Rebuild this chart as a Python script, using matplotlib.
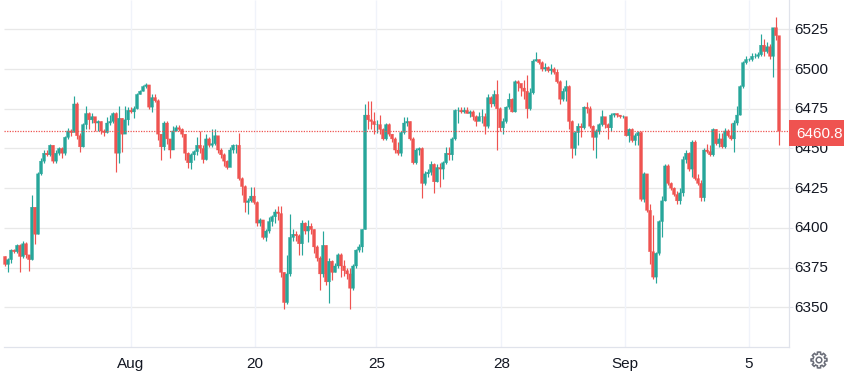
import numpy as np
import matplotlib
matplotlib.use("Agg")
import matplotlib.pyplot as plt
from matplotlib.patches import Rectangle, Polygon
from matplotlib.transforms import ScaledTranslation

plt.rcParams['font.family'] = ['Liberation Sans', 'DejaVu Sans']

first_open = 6382
closes = [
6377,6380,6386,6385,6389,6382,6390,6383,6380,6413,
6396,6434,6442,6447,6446,6452,6442,6447,6450,6447,
6457,6461,6460,6478,6458,6451,6465,6472,6468,6470,
6466,6467,6461,6460,6466,6467,6472,6447,6469,6459,
6468,6474,6473,6475,6484,6486,6489,6490,6476,6482,
6480,6459,6451,6466,6456,6449,6461,6463,6462,6459,
6447,6441,6446,6448,6452,6450,6443,6456,6452,6453,
6458,6449,6446,6442,6438,6449,6452,6452,6431,6426,
6416,6417,6420,6416,6403,6405,6394,6398,6404,6407,
6410,6409,6372,6353,6371,6394,6396,6395,6390,6403,
6398,6401,6399,6388,6381,6371,6389,6366,6379,6372,
6376,6383,6376,6373,6371,6362,6376,6386,6388,6399,
6471,6468,6467,6465,6465,6462,6456,6465,6459,6456,
6449,6447,6460,6466,6467,6456,6441,6449,6450,6428,
6434,6435,6440,6429,6438,6437,6441,6447,6446,6456,
6474,6474,6473,6474,6472,6473,6470,6467,6470,6470,
6464,6482,6478,6484,6475,6463,6467,6476,6481,6473,
6492,6491,6488,6486,6475,6485,6505,6506,6504,6500,
6501,6499,6500,6498,6492,6481,6486,6489,6467,6450,
6460,6464,6463,6476,6475,6464,6457,6461,6465,6470,
6465,6463,6471,6472,6471,6470,6470,6458,6462,6455,
6458,6460,6418,6434,6411,6385,6369,6384,6404,6417,
6439,6428,6425,6421,6417,6422,6443,6447,6437,6454,
6431,6428,6419,6449,6448,6446,6462,6453,6456,6451,
6461,6458,6456,6466,6471,6489,6504,6506,6506,6508,
6508,6509,6515,6511,6514,6508,6526,6521,6460.8]
highs = [
6382,6381,6387,6387,6390,6390,6392,6391,6383,6421,
6413,6435,6444,6449,6449,6453,6452,6449,6451,6451,
6458,6463,6462,6483,6479,6460,6466,6477,6473,6472,
6470,6468,6467,6462,6470,6471,6473,6473,6477,6469,
6477,6476,6476,6477,6485,6487,6490,6491,6490,6484,
6484,6481,6459,6467,6467,6456,6464,6465,6465,6463,
6459,6448,6447,6449,6457,6461,6452,6459,6457,6462,
6462,6458,6450,6447,6443,6451,6453,6453,6460,6432,
6427,6419,6426,6426,6417,6406,6405,6399,6407,6408,
6412,6414,6414,6372,6383,6409,6399,6398,6396,6405,
6404,6405,6403,6399,6389,6382,6398,6389,6381,6380,
6378,6384,6384,6380,6375,6375,6377,6387,6390,6399,
6478,6480,6480,6473,6468,6471,6463,6466,6466,6459,
6457,6454,6461,6470,6470,6467,6457,6450,6451,6451,
6436,6437,6442,6441,6440,6441,6442,6451,6451,6457,
6475,6476,6476,6476,6476,6474,6474,6471,6473,6475,
6472,6484,6483,6487,6493,6476,6469,6477,6485,6482,
6493,6493,6490,6493,6496,6488,6506,6511,6506,6505,
6504,6502,6503,6501,6500,6493,6488,6493,6490,6468,
6461,6466,6466,6477,6479,6477,6465,6462,6466,6474,
6470,6466,6472,6472,6472,6471,6471,6470,6463,6463,
6460,6461,6461,6435,6430,6415,6408,6385,6405,6420,
6440,6440,6429,6426,6423,6425,6445,6449,6448,6455,
6455,6434,6430,6450,6453,6452,6463,6462,6460,6460,
6463,6462,6466,6468,6477,6490,6505,6508,6507,6510,
6510,6511,6522,6519,6517,6516,6526,6533,6521]
lows = [
6376,6372,6378,6384,6384,6372,6381,6381,6373,6380,
6390,6396,6433,6441,6445,6445,6441,6441,6446,6444,
6446,6456,6458,6462,6456,6448,6451,6462,6462,6466,
6461,6461,6459,6458,6460,6465,6466,6435,6441,6448,
6460,6465,6472,6469,6475,6484,6486,6488,6475,6473,
6479,6455,6443,6449,6453,6444,6453,6461,6461,6457,
6443,6438,6437,6443,6446,6447,6441,6443,6451,6451,
6452,6447,6444,6439,6437,6441,6447,6447,6430,6421,
6410,6409,6416,6415,6401,6401,6393,6392,6397,6401,
6403,6405,6369,6349,6352,6370,6392,6392,6383,6383,
6396,6391,6396,6384,6379,6361,6369,6364,6353,6367,
6372,6375,6369,6370,6368,6349,6361,6375,6385,6385,
6399,6462,6462,6459,6460,6459,6455,6455,6458,6454,
6447,6446,6445,6459,6464,6455,6440,6440,6446,6419,
6427,6432,6433,6422,6429,6426,6431,6440,6443,6443,
6455,6466,6472,6472,6472,6470,6468,6464,6468,6466,
6459,6463,6476,6477,6449,6461,6459,6466,6475,6473,
6473,6486,6483,6481,6469,6474,6484,6505,6503,6499,
6499,6498,6497,6497,6491,6478,6480,6480,6462,6444,
6446,6452,6457,6462,6472,6463,6449,6444,6459,6464,
6463,6456,6461,6470,6470,6469,6469,6458,6454,6454,
6452,6452,6417,6416,6410,6377,6368,6365,6383,6394,
6417,6427,6424,6420,6415,6415,6420,6441,6436,6432,
6430,6427,6417,6417,6447,6445,6445,6452,6451,6450,
6450,6457,6455,6448,6465,6471,6488,6503,6505,6505,
6507,6507,6508,6508,6510,6506,6495,6518,6452]
last_price = 6460.8
price_ticks = [6350, 6375, 6400, 6425, 6450, 6475, 6500, 6525]
time_labels = ['Aug', '20', '25', '28', 'Sep', '5']
time_positions = [42.0, 83.17, 123.83, 165.5, 206.67, 248.0]

UP, DOWN = '#26a69a', '#ef5350'
W, H = 845, 371
PLOT_R, PLOT_B, PLOT_L = 789, 347, 4
FS = 15.3 * 72 / 100

opens = [first_open] + closes[:-1]
xs = np.arange(len(closes))

fig = plt.figure(figsize=(W / 100, H / 100), dpi=100, facecolor='white')
ax = fig.add_axes([0, 1 - PLOT_B / H, PLOT_R / W, PLOT_B / H])
ax.set_xlim((0 - 5) / 3, (PLOT_R - 5) / 3)
ax.set_ylim(6325, 6543.45)
left_idx = (PLOT_L - 5) / 3

for s in ('top', 'left'):
    ax.spines[s].set_visible(False)
for s in ('right', 'bottom'):
    ax.spines[s].set_color('#e0e3eb')
    ax.spines[s].set_linewidth(0.9)
ax.spines['bottom'].set_bounds(left_idx, (PLOT_R - 5) / 3)

ax.yaxis.tick_right()
ax.set_yticks(price_ticks)
ax.set_yticklabels([str(p) for p in price_ticks], fontsize=FS, color='#131722')
ax.tick_params(axis='y', length=3, width=0.8, color='#e0e3eb', pad=1)
shift_up = ScaledTranslation(0, 1 / 100, fig.dpi_scale_trans)
for lab in ax.get_yticklabels():
    lab.set_verticalalignment('center_baseline')
    lab.set_transform(lab.get_transform() + shift_up)
ax.set_xticks(time_positions)
ax.set_xticklabels(time_labels, fontsize=FS, color='#131722')
ax.tick_params(axis='x', length=0, pad=7)

ax.hlines(price_ticks, left_idx, (PLOT_R - 5) / 3, color='#e8e8e8', lw=0.95, zorder=1)
ax.vlines(time_positions, 6325, 6543.45, color='#f0f3fa', lw=1.0, zorder=1)

for x, o, h, l, c in zip(xs, opens, highs, lows, closes):
    col = UP if c >= o else DOWN
    ax.vlines(x, l, h, color=col, lw=0.85, zorder=3)
    bars = ax.bar(x, abs(c - o), bottom=min(o, c), width=1.0, color=col,
                  edgecolor=col, linewidth=0.25, zorder=3)
    bars[0].set_snap(False)

ax.axhline(last_price, color=DOWN, lw=0.9, ls=(0, (1.0, 1.1)), zorder=4,
           xmin=PLOT_L / PLOT_R)

trans = ax.transAxes
box = Rectangle((1, 1 - 146 / PLOT_B), 56 / PLOT_R, 26 / PLOT_B, transform=trans,
                facecolor=DOWN, edgecolor='none', clip_on=False, zorder=6)
ax.add_patch(box)
ax.text(796 / PLOT_R, 1 - 134 / PLOT_B, f'{last_price:.1f}', transform=trans,
        color='white', fontsize=FS, va='center', ha='left', zorder=7, clip_on=False)

# settings gear
cx, cy = 819, 360
ang = np.linspace(0, 2 * np.pi, 96, endpoint=False)
rad = np.where((np.floor(ang / (2 * np.pi) * 8 * 2 + 0.5).astype(int) % 2) == 0, 8.0, 6.0)
pts = np.c_[(cx + rad * np.cos(ang)) / W, 1 - (cy + rad * np.sin(ang)) / H]
fig.add_artist(Polygon(pts, closed=True, fill=False, edgecolor='#6a6d78', lw=1.1,
                       transform=fig.transFigure))
inner = np.linspace(0, 2 * np.pi, 40)
fig.add_artist(Polygon(np.c_[(cx + 2.8 * np.cos(inner)) / W, 1 - (cy + 2.8 * np.sin(inner)) / H],
                       closed=True, fill=False, edgecolor='#6a6d78', lw=1.1,
                       transform=fig.transFigure))

fig.savefig('out.png', dpi=100, facecolor='white')
